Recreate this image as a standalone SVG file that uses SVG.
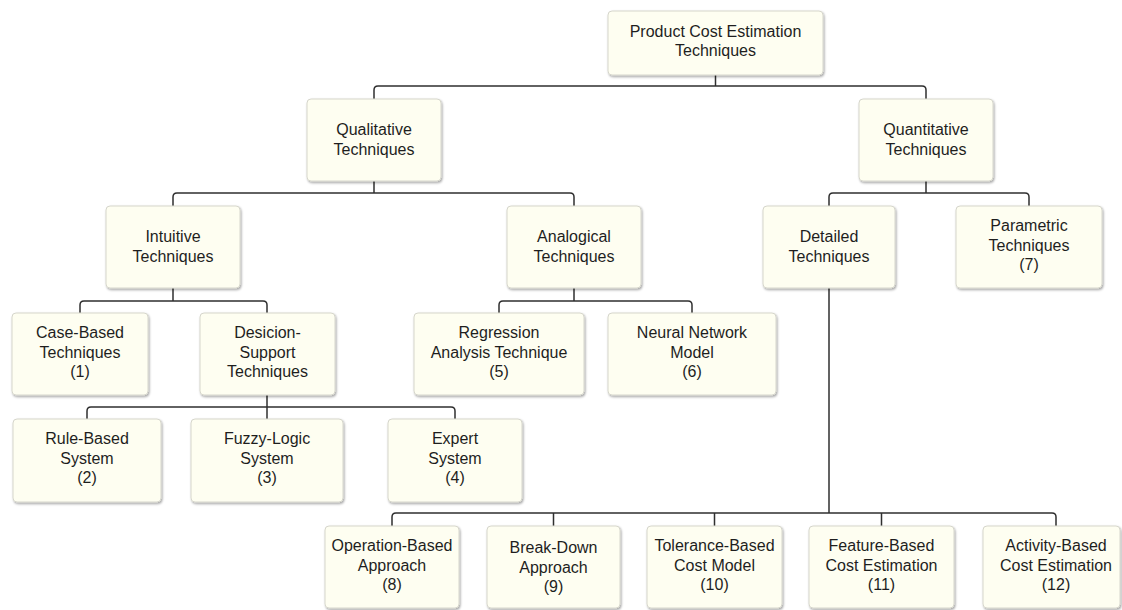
<svg xmlns="http://www.w3.org/2000/svg" width="1122" height="610" viewBox="0 0 1122 610">
<defs>
<filter id="sh" x="-10%" y="-10%" width="125%" height="130%">
<feDropShadow dx="1" dy="1.5" stdDeviation="1.2" flood-color="#000" flood-opacity="0.35"/>
</filter>
</defs>
<style>
.box{fill:#fefef1;stroke:#d6d6cc;stroke-width:1;filter:url(#sh)}
.t{font-family:"Liberation Sans",Arial,sans-serif;font-size:16px;fill:#1e1e1e;text-anchor:middle}
.c{fill:none;stroke:#2f2f2f;stroke-width:1.5}
</style>
<rect width="1122" height="610" fill="#ffffff"/>
<g id="connectors">
<path class="c" d="M715.5 75V86"/>
<path class="c" d="M374 99V90Q374 86 378 86H922Q926 86 926 90V99"/>
<path class="c" d="M374 181V193"/>
<path class="c" d="M173 206V197Q173 193 177 193H570Q574 193 574 197V206"/>
<path class="c" d="M926 181V193"/>
<path class="c" d="M829 206V197Q829 193 833 193H1025Q1029 193 1029 197V206"/>
<path class="c" d="M173 288V301"/>
<path class="c" d="M80 313V305Q80 301 84 301H263Q267 301 267 305V313"/>
<path class="c" d="M574 288V301"/>
<path class="c" d="M499 313V305Q499 301 503 301H688Q692 301 692 305V313"/>
<path class="c" d="M267 395V407"/>
<path class="c" d="M87 419V411Q87 407 91 407H451Q455 407 455 411V419"/>
<path class="c" d="M267 407V419"/>
<path class="c" d="M829 288V513"/>
<path class="c" d="M392 526V517Q392 513 396 513H1052Q1056 513 1056 517V526"/>
<path class="c" d="M553.5 513V526M714.5 513V526M881.5 513V526"/>
</g>
<g id="n-root"><rect class="box" x="608" y="11" width="215" height="64" rx="4"/><text class="t" x="715.5" y="37">Product Cost Estimation</text><text class="t" x="715.5" y="56">Techniques</text></g>
<g id="n-qual"><rect class="box" x="307" y="99" width="134" height="82" rx="4"/><text class="t" x="374" y="135">Qualitative</text><text class="t" x="374" y="154.5">Techniques</text></g>
<g id="n-quant"><rect class="box" x="859" y="99" width="134" height="82" rx="4"/><text class="t" x="926" y="135">Quantitative</text><text class="t" x="926" y="154.5">Techniques</text></g>
<g id="n-intuitive"><rect class="box" x="106" y="206" width="134" height="82" rx="4"/><text class="t" x="173" y="242">Intuitive</text><text class="t" x="173" y="261.5">Techniques</text></g>
<g id="n-analogical"><rect class="box" x="507" y="206" width="134" height="82" rx="4"/><text class="t" x="574" y="242">Analogical</text><text class="t" x="574" y="261.5">Techniques</text></g>
<g id="n-detailed"><rect class="box" x="763" y="206" width="132" height="82" rx="4"/><text class="t" x="829" y="242">Detailed</text><text class="t" x="829" y="261.5">Techniques</text></g>
<g id="n-parametric"><rect class="box" x="956" y="206" width="146" height="82" rx="4"/><text class="t" x="1029" y="231">Parametric</text><text class="t" x="1029" y="250.5">Techniques</text><text class="t" x="1029" y="270">(7)</text></g>
<g id="n-case"><rect class="box" x="12" y="313" width="136" height="82" rx="4"/><text class="t" x="80" y="338">Case-Based</text><text class="t" x="80" y="357.5">Techniques</text><text class="t" x="80" y="377">(1)</text></g>
<g id="n-decision"><rect class="box" x="200" y="313" width="135" height="82" rx="4"/><text class="t" x="267.5" y="338">Desicion-</text><text class="t" x="267.5" y="357.5">Support</text><text class="t" x="267.5" y="377">Techniques</text></g>
<g id="n-regression"><rect class="box" x="414" y="313" width="170" height="82" rx="4"/><text class="t" x="499" y="338">Regression</text><text class="t" x="499" y="357.5">Analysis Technique</text><text class="t" x="499" y="377">(5)</text></g>
<g id="n-neural"><rect class="box" x="608" y="313" width="168" height="82" rx="4"/><text class="t" x="692" y="338">Neural Network</text><text class="t" x="692" y="357.5">Model</text><text class="t" x="692" y="377">(6)</text></g>
<g id="n-rule"><rect class="box" x="13" y="419" width="148" height="83" rx="4"/><text class="t" x="87" y="444">Rule-Based</text><text class="t" x="87" y="463.5">System</text><text class="t" x="87" y="483">(2)</text></g>
<g id="n-fuzzy"><rect class="box" x="191" y="419" width="152" height="83" rx="4"/><text class="t" x="267" y="444">Fuzzy-Logic</text><text class="t" x="267" y="463.5">System</text><text class="t" x="267" y="483">(3)</text></g>
<g id="n-expert"><rect class="box" x="388" y="419" width="134" height="83" rx="4"/><text class="t" x="455" y="444">Expert</text><text class="t" x="455" y="463.5">System</text><text class="t" x="455" y="483">(4)</text></g>
<g id="n-operation"><rect class="box" x="325" y="526" width="134" height="82" rx="4"/><text class="t" x="392" y="551">Operation-Based</text><text class="t" x="392" y="570.5">Approach</text><text class="t" x="392" y="590">(8)</text></g>
<g id="n-breakdown"><rect class="box" x="487" y="526" width="133" height="82" rx="4"/><text class="t" x="553.5" y="553">Break-Down</text><text class="t" x="553.5" y="572.5">Approach</text><text class="t" x="553.5" y="592">(9)</text></g>
<g id="n-tolerance"><rect class="box" x="647" y="526" width="135" height="82" rx="4"/><text class="t" x="714.5" y="551">Tolerance-Based</text><text class="t" x="714.5" y="570.5">Cost Model</text><text class="t" x="714.5" y="590">(10)</text></g>
<g id="n-feature"><rect class="box" x="809" y="526" width="145" height="82" rx="4"/><text class="t" x="881.5" y="551">Feature-Based</text><text class="t" x="881.5" y="570.5">Cost Estimation</text><text class="t" x="881.5" y="590">(11)</text></g>
<g id="n-activity"><rect class="box" x="983" y="526" width="137" height="82" rx="4"/><text class="t" x="1056" y="551">Activity-Based</text><text class="t" x="1056" y="570.5">Cost Estimation</text><text class="t" x="1056" y="590">(12)</text></g>
</svg>
